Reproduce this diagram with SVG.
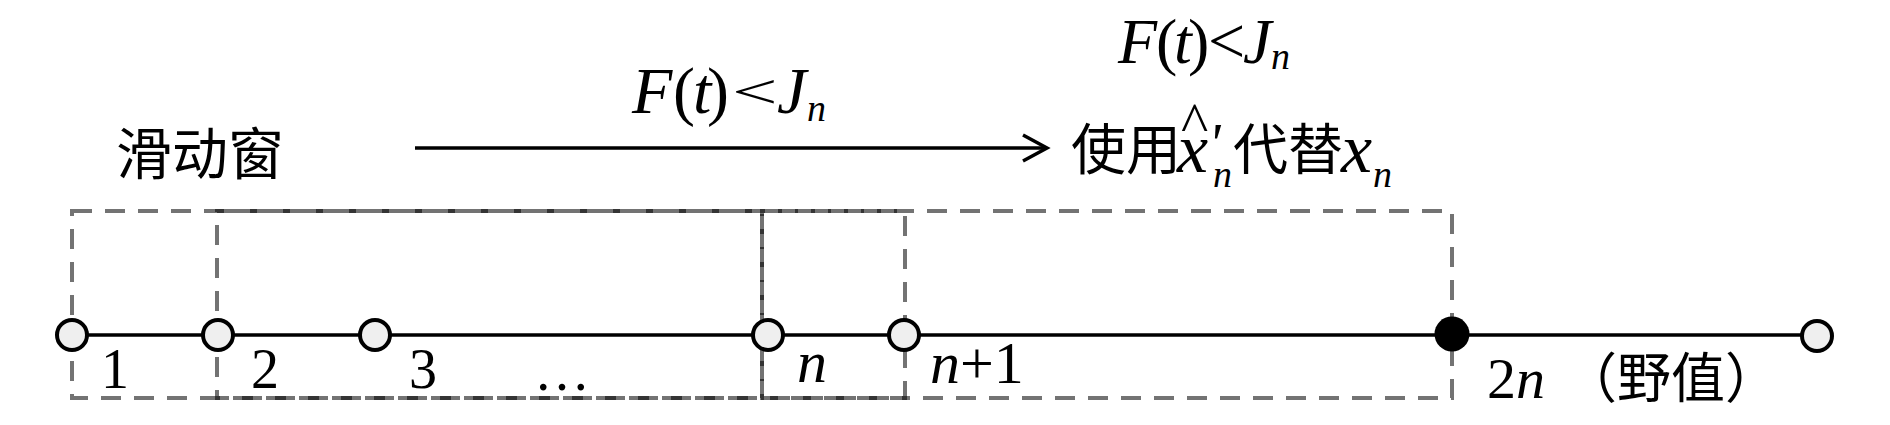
<svg xmlns="http://www.w3.org/2000/svg" width="1890" height="425" viewBox="0 0 1890 425">
<defs>
<style>
.win{fill:none;stroke:#000;stroke-opacity:0.55;stroke-width:4;stroke-dasharray:20 13}
.node{fill:#efefef;stroke:#000;stroke-width:4}
.bad{fill:#000}
.line{stroke:#000;stroke-width:3.5;fill:none}
.m{font-family:"Liberation Serif","Times New Roman",serif;font-style:italic;fill:#000}
.r{font-family:"Liberation Serif","Times New Roman",serif;font-style:normal;fill:#000}
.cjk{font-family:"Liberation Serif","Noto Sans CJK SC",sans-serif;fill:#000}
</style>
</defs>
<rect width="1890" height="425" fill="#fff"/>
<g id="windows">
<rect class="win" x="72" y="211" width="690" height="187"/>
<rect class="win" x="217" y="211" width="688" height="187"/>
<rect class="win" x="762" y="211" width="690" height="187"/>
</g>
<g id="connectors">
<line class="line" x1="72" y1="335" x2="1817" y2="335"/>
<line class="line" x1="415" y1="148" x2="1046" y2="148"/>
<polyline class="line" stroke-width="4" points="1023,135 1047,148 1023,161"/>
</g>
<g id="n1"><circle class="node" cx="72" cy="335" r="15"/><text class="r" x="101" y="388" font-size="56">1</text></g>
<g id="n2"><circle class="node" cx="218" cy="335" r="15"/><text class="r" x="251" y="388" font-size="56">2</text></g>
<g id="n3"><circle class="node" cx="375" cy="335" r="15"/><text class="r" x="409" y="388" font-size="56">3</text></g>
<g id="dots"><text class="r" x="534" y="390" font-size="56">…</text></g>
<g id="nn"><circle class="node" cx="768" cy="335" r="15"/><text class="m" x="797" y="382" font-size="60">n</text></g>
<g id="nn1"><circle class="node" cx="904" cy="335" r="15"/><text x="930" y="383" font-size="60"><tspan class="m">n</tspan><tspan class="r">+1</tspan></text></g>
<g id="n2n"><circle class="bad" cx="1452" cy="334" r="17.5"/><text x="1487" y="398" font-size="58"><tspan class="r">2</tspan><tspan class="m">n</tspan></text><text class="cjk" x="1563" y="398" font-size="54">（野值）</text></g>
<g id="nend"><circle class="node" cx="1817" cy="336" r="15"/></g>
<g id="label-window"><text class="cjk" x="116" y="174" font-size="56">滑动窗</text></g>
<g id="label-cond">
<text font-size="66" y="113"><tspan class="m" x="632">F</tspan><tspan class="r" x="673">(</tspan><tspan class="m" x="693">t</tspan><tspan class="r" x="707">)</tspan></text>
<text class="r" font-size="60" transform="translate(732,108) scale(1.35,0.8)">&lt;</text>
<text class="m" font-size="66" x="777" y="113">J</text>
<text class="m" x="807" y="121" font-size="38">n</text>
</g>
<g id="label-replace">
<text class="m" font-size="64" y="63"><tspan x="1118">F</tspan><tspan class="r" x="1156">(</tspan><tspan x="1174">t</tspan><tspan class="r" x="1188">)</tspan><tspan class="r" x="1208" font-size="66">&lt;</tspan><tspan x="1243">J</tspan><tspan x="1271" y="69" font-size="38">n</tspan></text>
<text class="cjk" x="1071" y="169" font-size="55">使用</text>
<text class="m"><tspan class="r" x="1181" y="142" font-size="58">^</tspan><tspan x="1177" y="172" font-size="70">x</tspan><tspan x="1208" y="163" font-size="58">'</tspan><tspan x="1213" y="187" font-size="38">n</tspan></text>
<text class="cjk" x="1233" y="169" font-size="55">代替</text>
<text class="m"><tspan x="1341" y="172" font-size="70">x</tspan><tspan x="1373" y="187" font-size="38">n</tspan></text>
</g>
</svg>
